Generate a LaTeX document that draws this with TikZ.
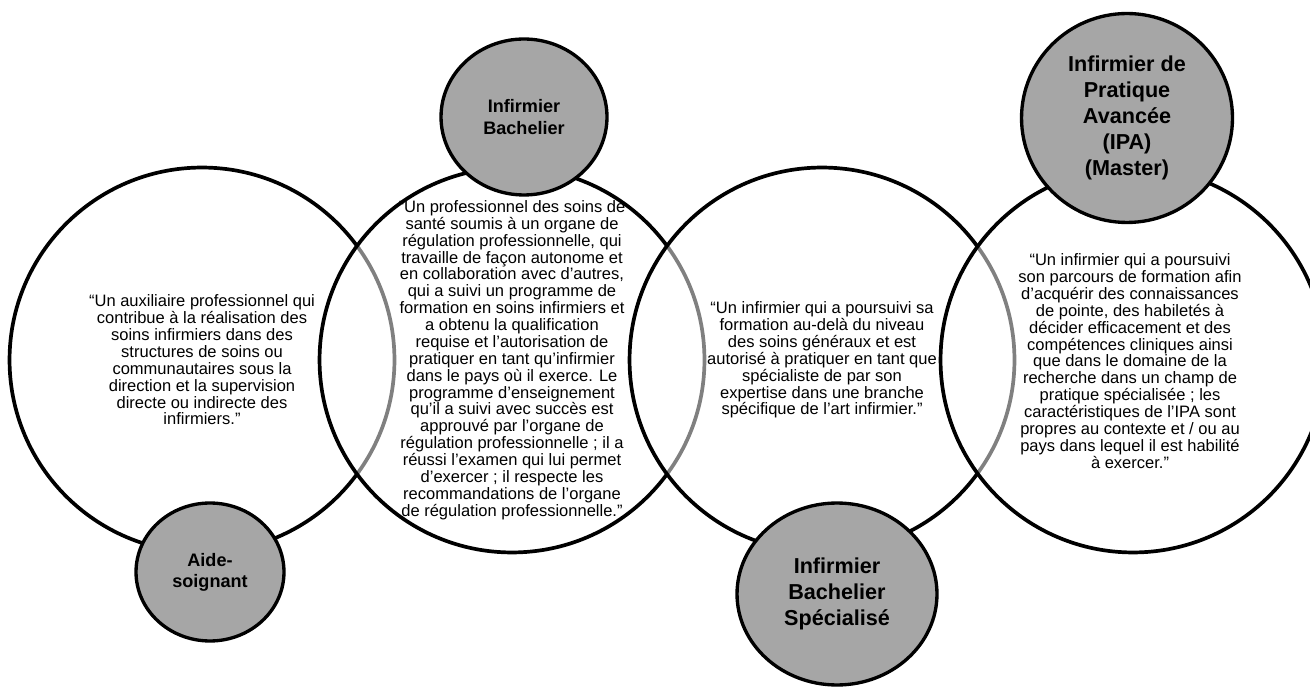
\documentclass[tikz,border=0pt]{standalone}
\usepackage{fontspec}
\setmainfont{Liberation Sans}
\usetikzlibrary{shapes.geometric}
\definecolor{rolegray}{rgb}{.65,.65,.65}

\begin{document}
\begin{tikzpicture}[x=0.02cm, y=-0.02cm,
	ring/.style={circle, draw, line width=2.1pt, fill=white, fill opacity=.5, minimum size=7.7cm, inner sep=0pt},
	quote/.style={align=center, font=\fontsize{9.4}{9.6}\selectfont},
	role/.style={ellipse, draw, line width=1.9pt, fill=rolegray, inner sep=0pt, align=center, font=\bfseries\fontsize{10.3}{12}\selectfont},
	bigrole/.style={role, font=\bfseries\fontsize{12.3}{14.8}\selectfont}]

	\useasboundingbox (0,0) rectangle (1310,688);

	% the four large circles, each one half see-through over the last
	\node[ring] (ringA) at (202,360) {};
	\node[ring] (ringB) at (512,360) {};
	\node[ring] (ringC) at (822,360) {};
	\node[ring] (ringD) at (1133,360) {};

	\node[quote] (textA) at (ringA) {“Un auxiliaire professionnel qui\\contribue à la réalisation des\\soins infirmiers dans des\\structures de soins ou\\communautaires sous la\\direction et la supervision\\directe ou indirecte des\\infirmiers.”};
	\node[quote] (textB) at (ringB) {“Un professionnel des soins de\\santé soumis à un organe de\\régulation professionnelle, qui\\travaille de façon autonome et\\en collaboration avec d’autres,\\qui a suivi un programme de\\formation en soins infirmiers et\\a obtenu la qualification\\requise et l’autorisation de\\pratiquer en tant qu’infirmier\\dans le pays où il exerce. Le\\programme d’enseignement\\qu’il a suivi avec succès est\\approuvé par l’organe de\\régulation professionnelle ; il a\\réussi l’examen qui lui permet\\d’exercer ; il respecte les\\recommandations de l’organe\\de régulation professionnelle.”};
	\node[quote] (textC) at (ringC) {“Un infirmier qui a poursuivi sa\\formation au-delà du niveau\\des soins généraux et est\\autorisé à pratiquer en tant que\\spécialiste de par son\\expertise dans une branche\\spécifique de l’art infirmier.”};
	\node[quote] (textD) at (1130,361) {“Un infirmier qui a poursuivi\\son parcours de formation afin\\d’acquérir des connaissances\\de pointe, des habiletés à\\décider efficacement et des\\compétences cliniques ainsi\\que dans le domaine de la\\recherche dans un champ de\\pratique spécialisée ; les\\caractéristiques de l’IPA sont\\propres au contexte et / ou au\\pays dans lequel il est habilité\\à exercer.”};

	% grey labels
	\node[role, minimum width=2.96cm, minimum height=2.76cm] (aidesoignant) at (210,572) {Aide-\\soignant};
	\node[role, minimum width=3.32cm, minimum height=3.12cm] (bachelier) at (524,117) {Infirmier\\Bachelier};
	\node[bigrole, minimum width=4cm, minimum height=3.64cm] (specialise) at (837,594) {Infirmier\\Bachelier\\Spécialisé};
	\node[bigrole, minimum width=4.22cm, minimum height=4.18cm] (ipa) at (1127,118) {Infirmier de\\Pratique\\Avancée\\(IPA)\\(Master)};

\end{tikzpicture}
\end{document}
